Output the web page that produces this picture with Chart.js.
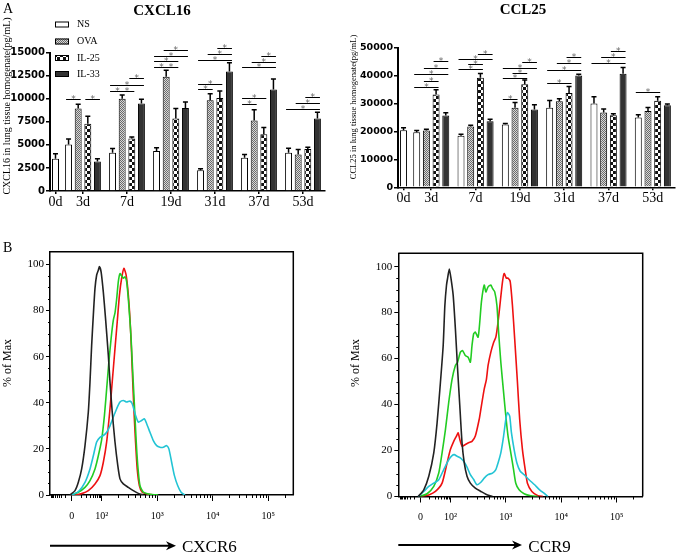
<!DOCTYPE html>
<html>
<head>
<meta charset="utf-8">
<script src="https://cdn.jsdelivr.net/npm/chart.js@4.4.0/dist/chart.umd.min.js"></script>
<style>
body { margin: 0; background: #fff; }
#wrap { position: relative; width: 680px; height: 554px; overflow: hidden; }
canvas { position: absolute; }
</style>
</head>
<body>
<div id="wrap">
  <canvas id="cxcl16" width="335" height="225" style="left:0;top:0"></canvas>
  <canvas id="ccl25" width="340" height="225" style="left:340px;top:0"></canvas>
  <canvas id="cxcr6" width="340" height="314" style="left:0;top:240px"></canvas>
  <canvas id="ccr9" width="340" height="314" style="left:340px;top:240px"></canvas>
</div>
<script>
// ---- panel A data ----
var days = ['0d', '3d', '7d', '19d', '31d', '37d', '53d'];
var groups = ['NS', 'OVA', 'IL-25', 'IL-33'];

var cxcl16NS   = [3500, 5050, 4150, 4350, 2250, 3600, 4150];
var cxcl16OVA  = [null, 8950, 10000, 12400, 9850, 7650, 3950];
var cxcl16IL25 = [null, 7300, 5700, 7850, 10100, 6150, 4550];
var cxcl16IL33 = [null, 3200, 9500, 9000, 12950, 11000, 7850];
var cxcl16NSErr   = [550, 600, 450, 350, 150, 350, 500];
var cxcl16OVAErr  = [null, 450, 400, 700, 700, 1150, 550];
var cxcl16IL25Err = [null, 800, 150, 1100, 750, 750, 200];
var cxcl16IL33Err = [null, 300, 450, 650, 950, 1150, 700];
// [day index, group from, group to, level]
var cxcl16Sig = [
  [1,0,1,9950], [1,2,3,9950],
  [2,0,1,10800], [2,1,2,10800], [2,0,3,11550], [2,2,3,12300],
  [3,0,1,13450], [3,1,2,13450], [3,0,2,14050], [3,0,3,14650], [3,1,3,15300],
  [4,0,1,11050], [4,0,2,11650], [4,0,3,14250], [4,1,3,14900], [4,2,3,15550],
  [5,0,1,9450], [5,0,2,10050], [5,0,3,13400], [5,1,3,14000], [5,2,3,14650],
  [6,0,3,8850], [6,1,3,9550], [6,2,3,10150]
];
var cxcl16Ticks = [0, 2500, 5000, 7500, 10000, 12500, 15000];

var ccl25NS   = [20400, 19700, 18500, 22500, 28500, 30000, 25000];
var ccl25OVA  = [null, 20300, 21800, 28500, 30800, 26800, 27300];
var ccl25IL25 = [null, 33200, 39200, 36900, 33800, 25800, 31000];
var ccl25IL33 = [null, 25700, 23700, 27900, 40000, 40700, 29400];
var ccl25NSErr   = [900, 600, 500, 350, 2600, 2400, 950];
var ccl25OVAErr  = [null, 500, 450, 1900, 950, 1200, 1300];
var ccl25IL25Err = [null, 1700, 1600, 1500, 2300, 500, 1400];
var ccl25IL33Err = [null, 1000, 700, 1700, 500, 2200, 400];
var ccl25Sig = [
  [1,0,2,35800], [1,1,2,38050], [1,0,3,40450], [1,1,3,42600], [1,2,3,45200],
  [2,0,2,42250], [2,1,2,44050], [2,0,3,45950], [2,2,3,47600],
  [3,0,1,31500], [3,0,2,39000], [3,1,2,41050], [3,0,3,42850], [3,2,3,44750],
  [4,0,2,37450], [4,0,3,42000], [4,1,3,44650], [4,2,3,46550],
  [5,0,3,44650], [5,1,3,46800], [5,2,3,48800],
  [6,0,2,34250]
];
var ccl25Ticks = [0, 10000, 20000, 30000, 40000, 50000];

// ---- panel B data: [position on biexponential axis (decades), % of Max] ----
var flowTickVals = [1.46, 2, 3, 4, 5];
var flowTickLabels = ['0', '10\u00b2', '10\u00b3', '10\u2074', '10\u2075'];
var pctTicks = [0, 20, 40, 60, 80, 100];

var cxcr6Black = [[1.43,0],[1.52,1.9],[1.58,5.5],[1.64,11.3],[1.70,21.4],[1.76,36],[1.79,49],[1.82,65],[1.85,78],[1.88,89.6],[1.91,95.4],[1.94,97.5],[1.96,99],[1.99,96.8],[2.03,88],[2.07,76.5],[2.12,60.6],[2.15,49],[2.19,36],[2.24,23],[2.29,12.8],[2.33,7],[2.39,4.8],[2.48,3.3],[2.57,1.9],[2.66,0.7],[2.75,0]];
var cxcr6Cyan = [[1.46,0],[1.58,1.4],[1.70,5.5],[1.79,11.3],[1.85,17],[1.91,23],[1.97,25],[2.03,25.8],[2.09,27.2],[2.15,30],[2.21,33.8],[2.27,37.4],[2.33,40.3],[2.39,41],[2.45,40.3],[2.51,40.7],[2.55,39.6],[2.61,34.5],[2.66,31.6],[2.72,32.3],[2.77,33],[2.81,30.9],[2.87,27.2],[2.93,23.6],[2.99,21.4],[3.05,20.7],[3.11,20.7],[3.17,21.4],[3.21,20],[3.26,14.2],[3.31,8.4],[3.37,4],[3.43,1.2],[3.50,0]];
var cxcr6Green = [[1.46,0],[1.58,1.2],[1.70,3.3],[1.79,6.2],[1.88,11.3],[1.94,17],[2.0,24],[2.05,34.5],[2.09,46],[2.13,57.7],[2.17,67.8],[2.21,75.8],[2.24,79],[2.27,85],[2.30,92.5],[2.33,96],[2.36,95],[2.39,94],[2.42,94.6],[2.45,92.5],[2.49,82],[2.53,67.8],[2.56,53],[2.59,38.8],[2.62,24],[2.65,12.8],[2.69,4],[2.75,1.2],[2.87,0.3],[3.02,0]];
var cxcr6Red = [[1.52,0],[1.64,0.6],[1.76,1.9],[1.88,4.8],[1.97,8.4],[2.03,14.2],[2.09,23],[2.15,37.4],[2.19,49],[2.24,63.5],[2.28,75],[2.32,86.7],[2.36,94],[2.40,98.3],[2.44,95.4],[2.48,86.7],[2.52,72],[2.55,54.8],[2.58,37.4],[2.61,23],[2.64,11.3],[2.68,4],[2.73,1.2],[2.84,0.3],[2.95,0]];

var ccr9Black = [[1.42,0],[1.52,2.9],[1.61,8.8],[1.70,19],[1.76,32],[1.82,49.6],[1.87,65.7],[1.90,83],[1.93,92],[1.95,95],[1.98,99],[2.01,95],[2.05,87.6],[2.09,73],[2.13,55.5],[2.17,39.4],[2.21,23.4],[2.25,14.6],[2.30,8.8],[2.36,5.8],[2.45,3.6],[2.55,2.2],[2.64,1],[2.76,0]];
var ccr9Cyan = [[1.42,0],[1.52,2.2],[1.61,4.4],[1.70,5.8],[1.79,7.3],[1.88,11.7],[1.97,16],[2.03,17.8],[2.07,18.2],[2.12,17.5],[2.18,16.8],[2.24,15.3],[2.30,12.8],[2.36,9.5],[2.42,7.4],[2.48,5.1],[2.55,6.2],[2.61,8],[2.68,9.5],[2.76,10.2],[2.82,11.7],[2.86,14.6],[2.91,19],[2.96,26.3],[3.0,33.6],[3.03,36.5],[3.07,35],[3.10,28],[3.15,20.4],[3.20,14.6],[3.26,11],[3.33,9.5],[3.42,7.3],[3.52,5.1],[3.61,2.9],[3.70,1.2],[3.76,0]];
var ccr9Green = [[1.45,0],[1.58,1.2],[1.70,4.4],[1.79,10.2],[1.85,19],[1.91,29],[1.97,41],[2.03,51],[2.09,57],[2.13,58.4],[2.18,62.8],[2.22,63.5],[2.27,61.3],[2.32,60.6],[2.36,58.4],[2.39,65.7],[2.42,70.8],[2.45,71.5],[2.50,69.3],[2.53,75.9],[2.56,84.7],[2.61,92],[2.64,89],[2.68,91.2],[2.73,92],[2.76,90.5],[2.80,89],[2.84,83],[2.87,71.5],[2.91,58.4],[2.96,45.3],[3.00,35],[3.04,26.3],[3.09,19],[3.14,11.7],[3.18,5.8],[3.24,2.9],[3.33,1.2],[3.45,0.3],[3.58,0]];
var ccr9Red = [[1.48,0],[1.61,0.7],[1.73,2.2],[1.85,5.8],[1.94,14.6],[2.0,20.4],[2.06,24],[2.11,26.3],[2.14,27.7],[2.17,24.8],[2.21,21.9],[2.27,22.6],[2.33,23.4],[2.39,24],[2.45,26.3],[2.52,33.6],[2.55,38],[2.61,46.7],[2.65,51],[2.68,57],[2.73,62.8],[2.78,67],[2.82,69.3],[2.86,75.9],[2.90,84.7],[2.94,93.4],[2.97,97],[3.01,95],[3.04,95],[3.08,93.4],[3.12,83],[3.16,68.6],[3.21,49.6],[3.25,33.6],[3.30,20.4],[3.35,11.7],[3.39,5.8],[3.47,2.2],[3.58,0.3],[3.67,0]];

// relative slot widths along the day axis (0d sits close to the y axis)
var X_SLOTS = [0.25, 1, 1, 1, 1, 1, 1];

class SlotScale extends Chart.CategoryScale {
  getPixelForValue(value) {
    if (typeof value !== 'number') value = this.parse(value);
    if (value === null || isNaN(value)) return NaN;
    var total = 0, before = 0;
    for (var i = 0; i < X_SLOTS.length; i++) {
      total += X_SLOTS[i];
      if (i < value) before += X_SLOTS[i];
    }
    return this.getPixelForDecimal((before + X_SLOTS[value] / 2) / total);
  }
}
SlotScale.id = 'slot';
SlotScale.defaults = Chart.CategoryScale.defaults;
Chart.register(SlotScale);

function makePattern(w, h, draw) {
  var c = document.createElement('canvas');
  c.width = w; c.height = h;
  var g = c.getContext('2d');
  draw(g);
  return g.createPattern(c, 'repeat');
}
var fills = [
  '#ffffff',
  makePattern(2, 2, function (g) {
    g.fillStyle = '#d8d8d8'; g.fillRect(0, 0, 2, 2);
    g.fillStyle = '#6a6a6a'; g.fillRect(0, 0, 1, 1); g.fillRect(1, 1, 1, 1);
  }),
  makePattern(6, 6, function (g) {
    g.fillStyle = '#ffffff'; g.fillRect(0, 0, 6, 6);
    g.fillStyle = '#111111'; g.fillRect(0, 0, 3, 3); g.fillRect(3, 3, 3, 3);
  }),
  '#333333'
];

function txt(ctx, s, x, y, font, o) {
  o = o || {};
  ctx.save();
  ctx.font = font;
  ctx.fillStyle = o.color || '#000';
  ctx.textAlign = o.align || 'left';
  ctx.textBaseline = o.base || 'middle';
  ctx.translate(x, y);
  if (o.rot) ctx.rotate(o.rot);
  ctx.fillText(s, 0, 0);
  ctx.restore();
}

var SERIF = '"Liberation Serif", "Times New Roman", serif';

function barChart(id, series, errs, sigs, yTicks, tickSize, pad, yWidth, xHeight, deco) {
  var yMax = yTicks[yTicks.length - 1];
  return new Chart(document.getElementById(id), {
    type: 'bar',
    data: {
      labels: days,
      datasets: series.map(function (d, i) {
        return {
          label: groups[i],
          data: d,
          backgroundColor: fills[i],
          borderColor: '#000',
          borderWidth: 1
        };
      })
    },
    options: {
      responsive: false,
      animation: false,
      events: [],
      layout: { padding: pad },
      datasets: {
        bar: { skipNull: true, categoryPercentage: 1.4, barPercentage: 0.72, maxBarThickness: 7 }
      },
      plugins: { legend: { display: false }, tooltip: { enabled: false } },
      scales: {
        x: {
          type: 'slot',
          grid: { drawOnChartArea: false, offset: false, tickLength: 3, color: '#000', lineWidth: 1.5 },
          border: { color: '#000', width: 1.5 },
          ticks: { font: { family: SERIF, size: 14 }, color: '#000', padding: 0, maxRotation: 0, autoSkip: false },
          afterFit: function (s) { s.height = xHeight; }
        },
        y: {
          min: 0, max: yMax,
          afterBuildTicks: function (s) { s.ticks = yTicks.map(function (v) { return { value: v }; }); },
          grid: { drawOnChartArea: false, tickLength: 4, color: '#000', lineWidth: 1.5 },
          border: { color: '#000', width: 2 },
          ticks: {
            font: { family: 'DejaVu Sans', size: tickSize, weight: 'bold' }, color: '#000', padding: 1,
            callback: function (v) { return String(v); }
          },
          afterFit: function (s) { s.width = yWidth; }
        }
      }
    },
    plugins: [{
      id: 'errorsAndStars',
      afterDatasetsDraw: function (chart) {
        var ctx = chart.ctx, ys = chart.scales.y;
        ctx.save();
        ctx.strokeStyle = '#000';
        ctx.lineWidth = 1.5;
        chart.data.datasets.forEach(function (ds, i) {
          var meta = chart.getDatasetMeta(i);
          ds.data.forEach(function (v, j) {
            var e = errs[i][j];
            if (v == null || e == null) return;
            var el = meta.data[j];
            var top = ys.getPixelForValue(v + e);
            ctx.beginPath();
            ctx.moveTo(el.x, el.y);
            ctx.lineTo(el.x, top);
            ctx.moveTo(el.x - 2.5, top);
            ctx.lineTo(el.x + 2.5, top);
            ctx.stroke();
          });
        });
        ctx.lineWidth = 1;
        sigs.forEach(function (s) {
          var xa = chart.getDatasetMeta(s[1]).data[s[0]].x;
          var xb = chart.getDatasetMeta(s[2]).data[s[0]].x;
          var y = Math.round(ys.getPixelForValue(s[3])) + 0.5;
          ctx.beginPath();
          ctx.moveTo(xa - 2.5, y);
          ctx.lineTo(xb + 2.5, y);
          ctx.stroke();
          txt(ctx, '*', (xa + xb) / 2, y + 2.5, '9px "DejaVu Sans"', { align: 'center', base: 'alphabetic', color: '#666' });
        });
        ctx.restore();
      },
      afterDraw: function (chart) { deco(chart.ctx, chart); }
    }]
  });
}

barChart('cxcl16',
  [cxcl16NS, cxcl16OVA, cxcl16IL25, cxcl16IL33],
  [cxcl16NSErr, cxcl16OVAErr, cxcl16IL25Err, cxcl16IL33Err],
  cxcl16Sig, cxcl16Ticks, 10,
  { top: 52.7, right: 10, bottom: 0, left: 0 }, 50, 34,
  function (ctx, chart) {
    txt(ctx, 'A', 3, 9, '14px ' + SERIF);
    txt(ctx, 'CXCL16', 162, 11, 'bold 15px ' + SERIF, { align: 'center' });
    txt(ctx, 'CXCL16 in lung tissue homogenate(pg/mL)', 7, 106, '10px ' + SERIF, { align: 'center', rot: -Math.PI / 2 });
    var rows = [24.5, 41.5, 58, 74];
    chart.data.datasets.forEach(function (ds, i) {
      ctx.save();
      ctx.fillStyle = ds.backgroundColor;
      ctx.fillRect(55, rows[i] - 3, 14, 6);
      ctx.strokeStyle = '#000';
      ctx.lineWidth = 1;
      ctx.strokeRect(55.5, rows[i] - 2.5, 13, 5);
      ctx.restore();
      txt(ctx, ds.label, 77, rows[i], '10px ' + SERIF);
    });
  });

barChart('ccl25',
  [ccl25NS, ccl25OVA, ccl25IL25, ccl25IL33],
  [ccl25NSErr, ccl25OVAErr, ccl25IL25Err, ccl25IL33Err],
  ccl25Sig, ccl25Ticks, 9.5,
  { top: 47.7, right: 5, bottom: 0, left: 0 }, 58, 37.7,
  function (ctx) {
    txt(ctx, 'CCL25', 183, 10, 'bold 15px ' + SERIF, { align: 'center' });
    txt(ctx, 'CCL25 in lung tissue homogenate(pg/mL)', 13.5, 107, '8.5px ' + SERIF, { align: 'center', rot: -Math.PI / 2 });
  });

function flowChart(id, curves, xMin, xMax, yMax, pad, yWidth, xHeight, deco) {
  var colors = ['#222222', '#22c4d4', '#22cc22', '#ee1111'];
  return new Chart(document.getElementById(id), {
    type: 'line',
    data: {
      datasets: curves.map(function (c, i) {
        return {
          label: 'curve ' + (i + 1),
          data: c.map(function (p) { return { x: p[0], y: p[1] }; }),
          borderColor: colors[i],
          borderWidth: 1.6,
          pointRadius: 0,
          tension: 0.2,
          fill: false
        };
      })
    },
    options: {
      responsive: false,
      animation: false,
      events: [],
      layout: { padding: pad },
      plugins: { legend: { display: false }, tooltip: { enabled: false } },
      scales: {
        x: {
          type: 'linear', min: xMin, max: xMax,
          afterBuildTicks: function (s) { s.ticks = flowTickVals.map(function (v) { return { value: v }; }); },
          grid: { drawOnChartArea: false, tickLength: 6, color: '#000', lineWidth: 1 },
          border: { color: '#000', width: 1.5 },
          ticks: {
            font: { family: SERIF, size: 10 }, color: '#000', padding: 9, maxRotation: 0, autoSkip: false,
            callback: function (v, i) { return flowTickLabels[i]; }
          },
          afterFit: function (s) { s.height = xHeight; }
        },
        y: {
          min: 0, max: yMax,
          afterBuildTicks: function (s) { s.ticks = pctTicks.map(function (v) { return { value: v }; }); },
          grid: { drawOnChartArea: false, tickLength: 4, color: '#000', lineWidth: 1 },
          border: { color: '#000', width: 1.5 },
          ticks: { font: { family: SERIF, size: 11 }, color: '#000', padding: 2 },
          afterFit: function (s) { s.width = yWidth; }
        }
      }
    },
    plugins: [{
      id: 'flowFrame',
      afterDraw: function (chart) {
        var ctx = chart.ctx, a = chart.chartArea, xs = chart.scales.x, ys = chart.scales.y;
        ctx.save();
        ctx.strokeStyle = '#000';
        ctx.lineWidth = 1.5;
        ctx.beginPath();
        ctx.moveTo(a.left, a.top);
        ctx.lineTo(a.right, a.top);
        ctx.lineTo(a.right, a.bottom);
        ctx.stroke();
        // minor ticks
        ctx.lineWidth = 1;
        var minor = [];
        for (var k = 2; k <= 9; k++) {
          minor.push(1.46 - 0.39 * Math.log10(k));
          minor.push(1.46 + 0.54 * Math.log10(k));
          for (var d = 2; d <= 5; d++) minor.push(d + Math.log10(k));
        }
        ctx.beginPath();
        minor.forEach(function (v) {
          if (v <= xMin || v >= xMax) return;
          var px = Math.round(xs.getPixelForValue(v)) + 0.5;
          ctx.moveTo(px, a.bottom);
          ctx.lineTo(px, a.bottom + 3);
        });
        for (var p = 5; p < 105; p += 5) {
          if (p % 20 === 0) continue;
          var py = Math.round(ys.getPixelForValue(p)) + 0.5;
          ctx.moveTo(a.left, py);
          ctx.lineTo(a.left - 2, py);
        }
        ctx.stroke();
        ctx.restore();
        deco(ctx, chart);
      }
    }]
  });
}

function arrow(ctx, x0, x1, y) {
  ctx.save();
  ctx.strokeStyle = '#000';
  ctx.fillStyle = '#000';
  ctx.lineWidth = 2;
  ctx.beginPath();
  ctx.moveTo(x0, y);
  ctx.lineTo(x1 - 4, y);
  ctx.stroke();
  ctx.beginPath();
  ctx.moveTo(x1, y);
  ctx.lineTo(x1 - 10, y - 4.5);
  ctx.lineTo(x1 - 7, y);
  ctx.lineTo(x1 - 10, y + 4.5);
  ctx.closePath();
  ctx.fill();
  ctx.restore();
}

flowChart('cxcr6', [cxcr6Black, cxcr6Cyan, cxcr6Green, cxcr6Red], 1.07, 5.45, 105.5,
  { top: 11.7, right: 46.7, bottom: 0, left: 0 }, 50, 59,
  function (ctx) {
    txt(ctx, 'B', 3, 8, '14px ' + SERIF);
    txt(ctx, '% of Max', 8, 123, '12px ' + SERIF, { align: 'center', rot: -Math.PI / 2 });
    arrow(ctx, 50, 176, 305.7);
    txt(ctx, 'CXCR6', 182, 312, '17px ' + SERIF, { base: 'alphabetic' });
  });

flowChart('ccr9', [ccr9Black, ccr9Cyan, ccr9Green, ccr9Red], 1.06, 5.47, 105.8,
  { top: 13.3, right: 37.3, bottom: 0, left: 0 }, 58.3, 57.5,
  function (ctx) {
    txt(ctx, '% of Max', 16, 123, '12px ' + SERIF, { align: 'center', rot: -Math.PI / 2 });
    arrow(ctx, 58.3, 182, 305);
    txt(ctx, 'CCR9', 188.3, 311.5, '17px ' + SERIF, { base: 'alphabetic' });
  });
</script>
</body>
</html>
